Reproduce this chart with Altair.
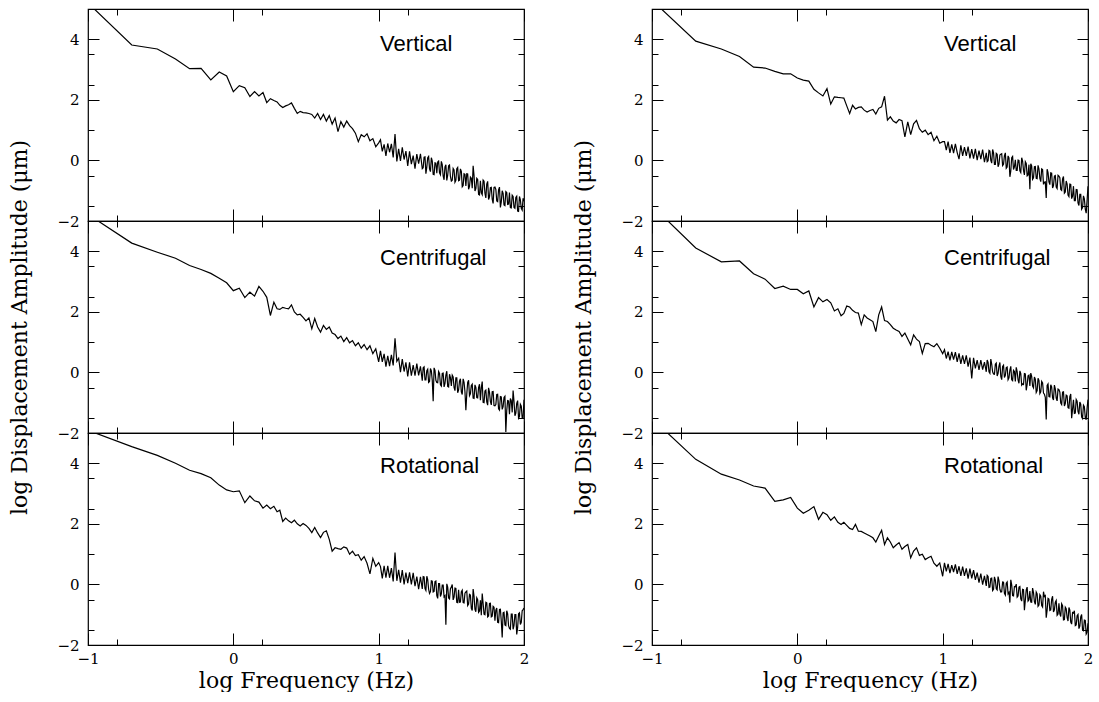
import altair as alt
import pandas as pd

# ---------------- data ----------------
log_freq_low = [-1.0, -0.699, -0.523, -0.398, -0.301, -0.222, -0.155, -0.097, -0.046, 0.0,
                0.041, 0.079, 0.114, 0.146, 0.176, 0.204, 0.230, 0.255, 0.279, 0.301]
log_freq_mid = [0.32, 0.34, 0.36, 0.38, 0.40, 0.42, 0.44, 0.46, 0.48, 0.50,
                0.52, 0.54, 0.56, 0.58, 0.60, 0.62, 0.64, 0.66, 0.68, 0.70,
                0.72, 0.74, 0.76, 0.78, 0.80, 0.82, 0.84, 0.86, 0.88, 0.90,
                0.92, 0.94, 0.96, 0.98, 1.00]
log_freq_high = [1.0125, 1.025, 1.0375, 1.05, 1.0625, 1.075, 1.0875, 1.1,
                 1.1125, 1.125, 1.1375, 1.15, 1.1625, 1.175, 1.1875, 1.2,
                 1.2125, 1.225, 1.2375, 1.25, 1.2625, 1.275, 1.2875, 1.3,
                 1.3125, 1.325, 1.3375, 1.35, 1.3625, 1.375, 1.3875, 1.4,
                 1.4125, 1.425, 1.4375, 1.45, 1.4625, 1.475, 1.4875, 1.5,
                 1.5125, 1.525, 1.5375, 1.55, 1.5625, 1.575, 1.5875, 1.6,
                 1.6125, 1.625, 1.6375, 1.65, 1.6625, 1.675, 1.6875, 1.7,
                 1.7125, 1.725, 1.7375, 1.75, 1.7625, 1.775, 1.7875, 1.8,
                 1.8125, 1.825, 1.8375, 1.85, 1.8625, 1.875, 1.8875, 1.9,
                 1.9125, 1.925, 1.9375, 1.95, 1.9625, 1.975, 1.9875, 2.0]
# extra samples of the dense high-frequency part
log_freq_dense = [1.30625, 1.31875, 1.33125, 1.34375, 1.35625, 1.36875, 1.38125, 1.39375,
                  1.40625, 1.41875, 1.43125, 1.44375, 1.45625, 1.46875, 1.48125, 1.49375,
                  1.50625, 1.51875, 1.53125, 1.54375, 1.55625, 1.56875, 1.58125, 1.59375,
                  1.60625, 1.61875, 1.63125, 1.64375, 1.65625, 1.66875, 1.68125, 1.69375,
                  1.70625, 1.71875, 1.73125, 1.74375, 1.75625, 1.76875, 1.78125, 1.79375,
                  1.80625, 1.81875, 1.83125, 1.84375, 1.85625, 1.86875, 1.88125, 1.89375,
                  1.90625, 1.91875, 1.93125, 1.94375, 1.95625, 1.96875, 1.98125, 1.99375]

left_vertical = [
    5.2, 3.81, 3.68, 3.35, 3.03, 3.04, 2.66, 2.92, 2.79, 2.27, 2.47, 2.40, 2.11, 2.27, 2.13, 2.24, 1.91, 2.04, 1.98, 1.93,
    1.82, 1.75, 1.80, 1.84, 1.90, 1.72, 1.55, 1.62, 1.58, 1.57, 1.55, 1.52, 1.40, 1.55, 1.35, 1.52, 1.30, 1.48, 1.20, 1.40,
    0.95, 1.28, 1.10, 1.30, 1.15, 1.05, 0.90, 0.62, 0.85, 0.78, 0.88, 0.65, 0.72, 0.45, 0.58,
    0.68, 0.30, 0.53, 0.15, 0.56, 0.27, 0.55, 0.10,
    0.87, -0.03, 0.38, -0.02, 0.43, 0.03, 0.31, -0.18,
    0.30, -0.12, 0.16, -0.27, 0.21, -0.11, 0.22, -0.27,
    0.11, -0.44, 0.09, -0.28, 0.09, -0.46, -0.08, -0.42,
    -0.02, -0.47, -0.14, -0.64, -0.14, -0.49, -0.15, -0.68,
    -0.26, -0.72, -0.27, -0.67, -0.28, -0.87, -0.44, -0.84,
    -0.45, -0.86, -0.59, -0.18, -1.01, -0.59, -1.12, -0.67,
    -1.13, -0.69, -1.24, -0.69, -1.20, -0.89, -1.42, -0.88,
    -1.34, -0.97, -1.55, -1.00, -1.47, -1.03, -1.45, -1.06,
    -1.57, -1.19, -1.58, -1.18, -1.68, -1.30, -1.64, -1.35]
left_vertical_dense = [
    -0.24, 0.12, -0.22, 0.13, -0.37, -0.02, -0.47, -0.09,
    -0.05, -0.41, -0.03, -0.51, -0.21, -0.66, -0.18, -0.53,
    -0.65, -0.31, -0.66, -0.23, -0.65, -0.36, -0.83, -0.46,
    -0.44, -0.95, -0.55, -0.92, -0.50, -0.93, -0.63, -1.14,
    -1.07, -0.65, -1.08, -0.78, -1.29, -0.90, -1.28, -0.89,
    -0.96, -1.36, -0.88, -1.37, -1.09, -1.49, -1.06, -1.44,
    -1.56, -1.15, -1.55, -1.22, -1.67, -1.19, -1.58, -1.25]

left_centrifugal = [
    5.22, 4.27, 3.97, 3.77, 3.53, 3.40, 3.27, 3.11, 2.96, 2.70, 2.78, 2.47, 2.65, 2.52, 2.84, 2.68, 2.48, 1.88, 2.32, 2.10,
    2.08, 2.15, 2.12, 2.10, 2.23, 2.00, 1.90, 1.92, 1.82, 1.70, 1.80, 1.44, 1.78, 1.50, 1.33, 1.55, 1.42, 1.50, 1.30, 1.25,
    1.12, 1.20, 1.02, 1.15, 0.98, 1.05, 0.88, 0.98, 0.80, 0.92, 0.75, 0.88, 0.62, 0.78, 0.35,
    0.71, 0.35, 0.61, 0.19, 0.55, 0.21, 0.58, 0.23,
    1.13, 0.37, 0.47, 0.01, 0.44, 0.03, 0.33, -0.13,
    0.33, -0.11, 0.24, -0.11, 0.29, -0.10, 0.20, -0.27,
    0.18, -0.25, 0.11, -0.30, 0.05, -0.95, 0.07, -0.33,
    0.03, -0.41, -0.03, -0.48, -0.09, -0.46, -0.06, -0.45,
    -0.15, -0.60, -0.18, -0.58, -0.21, -0.73, -0.33, -1.25,
    -0.33, -0.77, -0.43, -0.85, -0.41, -0.83, -0.50, -0.92,
    -0.30, -1.00, -0.58, -1.08, -0.65, -1.07, -0.63, -1.10,
    -0.73, -1.20, -0.80, -1.22, -0.83, -1.97, -0.93, -1.38,
    -0.93, -0.60, -1.43, -1.02, -1.51, -1.05, -1.50, -0.90]
left_centrifugal_dense = [
    0.15, -0.25, 0.06, -0.33, 0.13, -0.26, 0.15, -0.26,
    -0.34, -0.03, -0.45, -0.02, -0.36, 0.04, -0.48, -0.17,
    -0.09, -0.49, -0.18, -0.67, -0.29, -0.64, -0.21, -0.64,
    -0.71, -0.26, -0.71, -0.39, -0.86, -0.49, -0.84, -0.39,
    -0.51, -0.99, -0.61, -0.97, -0.51, -0.96, -0.64, -1.09,
    -1.06, -0.72, -1.24, -0.81, -1.13, -0.79, -1.26, -0.94,
    -0.86, -1.32, -0.96, -1.34, -0.93, -1.46, -1.11, -1.49]

left_rotational = [
    5.09, 4.55, 4.26, 4.0, 3.77, 3.66, 3.52, 3.28, 3.12, 3.06, 3.09, 2.70, 2.92, 2.76, 2.72, 2.52, 2.62, 2.50, 2.58, 2.40,
    2.45, 2.08, 2.19, 2.10, 2.04, 2.12, 2.00, 1.93, 2.01, 1.95, 1.85, 1.71, 1.88, 1.70, 1.55, 1.72, 1.77, 1.49, 1.10, 1.21,
    1.18, 1.16, 1.24, 1.20, 1.00, 1.10, 0.95, 0.98, 0.80, 0.92, 0.70, 0.35, 0.86, 0.60, 0.72,
    0.59, 0.20, 0.61, 0.22, 0.61, 0.22, 0.54, 0.10,
    1.05, 0.12, 0.48, 0.06, 0.47, 0.0, 0.39, 0.04,
    0.40, 0.0, 0.38, -0.06, 0.26, -0.16, 0.25, -0.15,
    0.25, -0.20, 0.16, -0.30, 0.12, -0.25, 0.09, -0.37,
    0.03, -0.40, -0.02, -0.41, -1.33, -0.09, -0.48, -0.09,
    -0.51, -0.12, -0.59, -0.18, -0.58, -0.19, -0.61, -0.25,
    -0.70, -0.33, -0.79, -0.15, -0.82, -0.44, -0.92, -0.52,
    -0.30, -0.98, -0.59, -1.07, -0.63, -1.07, -0.72, -1.20,
    -0.78, -1.26, -0.82, -1.75, -0.92, -1.36, -0.97, -1.45,
    -0.98, -1.48, -1.00, -1.65, -0.97, -1.32, -0.87, -0.78]
left_rotational_dense = [
    0.26, -0.14, 0.27, -0.16, -0.24, 0.11, -0.23, 0.11,
    -0.46, 0.03, -0.31, -0.02, -0.37, 0.02, -0.45, -0.14,
    0.0, -0.42, -0.13, -0.60, -0.59, -0.24, -0.60, -0.29,
    -0.22, -0.65, -0.35, -0.86, -0.39, -0.90, -0.50, -0.88,
    -1.02, -0.63, -1.00, -0.61, -1.04, -0.62, -1.05, -0.75,
    -0.85, -1.25, -0.83, -1.21, -0.94, -1.34, -0.87, -1.36,
    -1.48, -0.98, -1.35, -1.00, -1.42, -0.94, -1.25, -0.83]

right_vertical = [
    5.29, 3.94, 3.68, 3.43, 3.08, 3.05, 2.94, 2.86, 2.86, 2.72, 2.65, 2.62, 2.35, 2.23, 2.13, 2.37, 1.86, 2.10, 2.08, 2.07,
    2.06, 1.80, 1.55, 1.82, 1.70, 1.75, 1.77, 1.66, 1.60, 1.65, 1.68, 1.53, 1.72, 1.77, 2.12, 1.33, 1.44, 1.30, 1.24, 1.35,
    1.31, 0.78, 1.27, 0.85, 1.21, 1.32, 1.05, 0.93, 1.00, 0.85, 0.93, 0.65, 0.80, 0.57, 0.62,
    0.62, 0.34, 0.62, 0.25, 0.53, 0.24, 0.55, 0.26,
    0.04, 0.50, 0.15, 0.44, 0.15, 0.46, 0.07, 0.37,
    0.06, 0.38, 0.01, 0.32, 0.04, 0.36, -0.06, 0.25,
    -0.01, 0.31, -0.09, 0.25, -0.13, 0.20, -0.12, 0.20,
    -0.17, 0.16, -0.26, 0.15, -0.54, 0.09, -0.30, 0.02,
    -0.33, 0.0, -0.40, -0.02, -0.48, -0.10, -0.48, -0.95,
    -0.18, -0.57, -0.20, -0.60, -0.28, -0.70, -0.30, -0.72,
    -1.24, -0.40, -0.80, -0.42, -0.83, -0.50, -0.93, -0.52,
    -0.96, -0.61, -1.08, -0.68, -1.14, -0.78, -1.26, -0.85,
    -1.33, -0.97, -1.49, -1.12, -1.56, -1.27, -1.74, -0.85]
right_vertical_dense = [
    -0.04, 0.33, 0.0, 0.36, -0.13, 0.23, -0.21, 0.18,
    0.22, -0.13, 0.25, -0.22, 0.08, -0.35, 0.13, -0.21,
    -0.33, 0.01, -0.34, 0.09, -0.33, -0.04, -0.51, -0.14,
    -0.11, -0.62, -0.21, -0.59, -0.16, -0.59, -0.28, -0.79,
    -0.71, -0.29, -0.71, -0.41, -0.91, -0.52, -0.88, -0.49,
    -0.57, -0.99, -0.53, -1.04, -0.78, -1.19, -0.79, -1.18,
    -1.33, -0.96, -1.40, -1.12, -1.61, -1.17, -1.61, -1.32]

right_centrifugal = [
    5.51, 4.11, 3.65, 3.68, 3.26, 3.08, 2.77, 2.85, 2.74, 2.74, 2.60, 2.69, 2.16, 2.47, 2.33, 2.41, 2.30, 2.03, 2.10, 1.87,
    1.95, 2.19, 2.16, 2.05, 1.98, 1.96, 1.58, 1.90, 1.80, 1.74, 1.68, 1.35, 1.90, 2.16, 1.71, 1.68, 1.58, 1.46, 1.40, 1.35,
    1.19, 1.30, 1.10, 0.91, 1.24, 1.10, 1.02, 0.63, 0.95, 0.96, 0.90, 0.85, 0.95, 0.80, 0.62,
    0.75, 0.46, 0.69, 0.40, 0.68, 0.42, 0.67, 0.35,
    0.63, 0.28, 0.56, 0.28, 0.56, 0.19, 0.49, -0.20,
    0.48, 0.13, 0.41, 0.08, 0.41, 0.09, 0.34, 0.02,
    0.33, -0.03, 0.27, -0.05, 0.27, -0.12, 0.21, -0.13,
    0.20, -0.17, 0.16, -0.24, 0.08, -0.24, 0.07, -0.30,
    0.03, -0.36, -0.04, -0.38, -0.04, -0.59, -0.11, -0.45,
    -0.13, -0.51, -0.22, -0.60, -0.26, -0.64, -0.35, -0.72,
    -1.55, -0.38, -0.81, -0.48, -0.91, -0.54, -0.94, -0.57,
    -1.01, -0.65, -1.11, -0.75, -1.16, -0.80, -1.51, -0.90,
    -1.34, -0.95, -1.38, -1.05, -1.52, -1.13, -1.56, -0.90]
right_centrifugal_dense = [
    0.41, 0.02, 0.44, 0.02, -0.06, 0.31, -0.03, 0.33,
    -0.24, 0.24, -0.10, 0.18, -0.18, 0.20, -0.27, 0.03,
    0.17, -0.25, 0.05, -0.42, -0.40, -0.05, -0.40, -0.09,
    -0.02, -0.45, -0.15, -0.66, -0.19, -0.70, -0.30, -0.68,
    -0.82, -0.43, -0.80, -0.41, -0.84, -0.42, -0.85, -0.55,
    -0.65, -1.06, -0.64, -1.03, -0.77, -1.18, -0.71, -1.21,
    -1.35, -0.89, -1.29, -0.98, -1.47, -1.08, -1.49, -1.18]

right_rotational = [
    5.48, 4.13, 3.64, 3.45, 3.25, 3.18, 2.74, 2.79, 2.87, 2.52, 2.35, 2.45, 2.57, 2.15, 2.38, 2.30, 2.12, 2.23, 2.05, 1.98,
    2.05, 1.95, 1.85, 1.81, 1.98, 1.76, 1.75, 1.70, 1.65, 1.60, 1.54, 1.40, 1.60, 1.79, 1.32, 1.54, 1.40, 1.21, 1.30, 1.38,
    1.16, 1.25, 1.32, 0.88, 1.10, 1.21, 0.96, 1.00, 0.82, 0.88, 0.93, 0.70, 0.60, 0.71, 0.27,
    0.71, 0.43, 0.68, 0.37, 0.64, 0.41, 0.66, 0.35,
    0.60, 0.28, 0.59, 0.28, 0.53, 0.19, 0.52, 0.20,
    0.47, 0.15, 0.39, 0.06, 0.36, -0.01, 0.28, -0.05,
    0.26, -0.09, 0.21, -0.16, 0.14, -0.18, 0.12, -0.25,
    0.08, -0.29, 0.04, -0.31, -0.60, -0.01, -0.38, -0.08,
    -0.42, -0.09, -0.48, -0.16, -0.85, -0.18, -0.55, -0.22,
    -0.59, -0.27, -0.66, -0.31, -0.68, -0.39, -0.75, -0.40,
    -1.10, -0.46, -0.86, -0.49, -0.91, -0.59, -1.02, -0.62,
    -1.06, -0.70, -1.16, -0.80, -1.21, -0.85, -1.31, -0.95,
    -1.36, -1.03, -1.46, -1.07, -1.51, -1.18, -1.64, -1.28]
right_rotational_dense = [
    0.30, -0.10, 0.20, -0.20, 0.25, -0.14, 0.26, -0.16,
    -0.24, 0.07, -0.35, 0.08, -0.26, 0.15, -0.37, -0.07,
    0.01, -0.38, -0.07, -0.55, -0.17, -0.52, -0.09, -0.51,
    -0.58, -0.12, -0.57, -0.25, -0.72, -0.34, -0.70, -0.24,
    -0.37, -0.85, -0.48, -0.84, -0.39, -0.84, -0.53, -0.98,
    -0.97, -0.64, -1.17, -0.75, -1.09, -0.76, -1.24, -0.93,
    -0.87, -1.34, -0.99, -1.38, -0.99, -1.53, -1.19, -1.58]

panel_names = ["Vertical", "Centrifugal", "Rotational"]
label_x = [1.01, 1.01, 1.01]
label_y = [3.85, 3.78, 3.92]

x_major = [-1, 0, 1, 2]
x_minor = [-0.8, -0.6, -0.4, -0.2, 0.2, 0.4, 0.6, 0.8, 1.2, 1.4, 1.6, 1.8]
y_major = [-2, 0, 2, 4]
y_minor = [-1.5, -1, -0.5, 0.5, 1, 1.5, 2.5, 3, 3.5, 4.5]

x_title = "log Frequency (Hz)"
y_title = "log Displacement Amplitude (\u03bcm)"

# ---------------- chart ----------------
log_freq = log_freq_low + log_freq_mid + log_freq_high
for s in (left_vertical, left_centrifugal, left_rotational,
          right_vertical, right_centrifugal, right_rotational):
    assert len(s) == len(log_freq), len(s)
for s in (left_vertical_dense, left_centrifugal_dense, left_rotational_dense,
          right_vertical_dense, right_centrifugal_dense, right_rotational_dense):
    assert len(s) == len(log_freq_dense), len(s)

SERIF = "DejaVu Serif"
xscale = alt.Scale(domain=[-1, 2], nice=False, zero=False)
yscale = alt.Scale(domain=[-2, 5], nice=False, zero=False)


def make_axis(orient, values, size, labels=False, title=None, pad=8, tpad=6):
    kw = dict(orient=orient, values=values, tickSize=size, offset=-size,
              domain=False, grid=False, ticks=True, tickColor="black", tickWidth=1,
              labels=labels, labelFlush=False, labelOverlap=False,
              labelFont=SERIF, labelFontSize=15, labelColor="black",
              labelPadding=pad, format="d",
              titleFont=SERIF, titleFontSize=22, titleFontWeight="normal",
              titleColor="black", titlePadding=tpad)
    kw["title"] = title
    return alt.Axis(**kw)


def panel(values, dense, idx, bottom, middle):
    df = pd.DataFrame({"f": log_freq + log_freq_dense, "a": values + dense})
    df = df.sort_values("f").reset_index(drop=True)
    lab = pd.DataFrame({"f": [label_x[idx]], "a": [label_y[idx]], "t": [panel_names[idx]]})
    base = alt.Chart(df)

    line = base.mark_line(color="black", strokeWidth=1.2, clip=True).encode(
        x=alt.X("f:Q", scale=xscale,
                axis=make_axis("bottom", x_major, 12, labels=bottom,
                               title=x_title if bottom else None, pad=6, tpad=4)),
        y=alt.Y("a:Q", scale=yscale,
                axis=make_axis("left", y_major, 11, labels=True,
                               title=y_title if middle else None, pad=9, tpad=25)),
    )
    minor_lb = base.mark_line(opacity=0, clip=True).encode(
        x=alt.X("f:Q", scale=xscale, axis=make_axis("bottom", x_minor, 6)),
        y=alt.Y("a:Q", scale=yscale, axis=make_axis("left", y_minor, 6)),
    )
    major_tr = base.mark_line(opacity=0, clip=True).encode(
        x=alt.X("f:Q", scale=xscale, axis=make_axis("top", x_major, 12)),
        y=alt.Y("a:Q", scale=yscale, axis=make_axis("right", y_major, 11)),
    )
    minor_tr = base.mark_line(opacity=0, clip=True).encode(
        x=alt.X("f:Q", scale=xscale, axis=make_axis("top", x_minor, 6)),
        y=alt.Y("a:Q", scale=yscale, axis=make_axis("right", y_minor, 6)),
    )
    text = alt.Chart(lab).mark_text(
        align="left", baseline="middle", font="Liberation Sans", fontSize=22, color="black"
    ).encode(
        x=alt.X("f:Q", scale=xscale, axis=None),
        y=alt.Y("a:Q", scale=yscale, axis=None),
        text="t:N",
    )
    return alt.layer(line, minor_lb, major_tr, minor_tr, text).resolve_axis(
        x="independent", y="independent"
    ).properties(width=436, height=212)


panels = [
    panel(left_vertical, left_vertical_dense, 0, False, False),
    panel(right_vertical, right_vertical_dense, 0, False, False),
    panel(left_centrifugal, left_centrifugal_dense, 1, False, True),
    panel(right_centrifugal, right_centrifugal_dense, 1, False, True),
    panel(left_rotational, left_rotational_dense, 2, True, False),
    panel(right_rotational, right_rotational_dense, 2, True, False),
]

chart = alt.concat(*panels, columns=2, spacing={"row": 0, "column": 128}, bounds="flush").properties(
    padding={"left": 8, "top": 7, "right": 0, "bottom": 0},
    background="white",
).configure_view(stroke="black", strokeWidth=1.2)

chart.save("out.html", embed_options={"renderer": "svg", "actions": False})
